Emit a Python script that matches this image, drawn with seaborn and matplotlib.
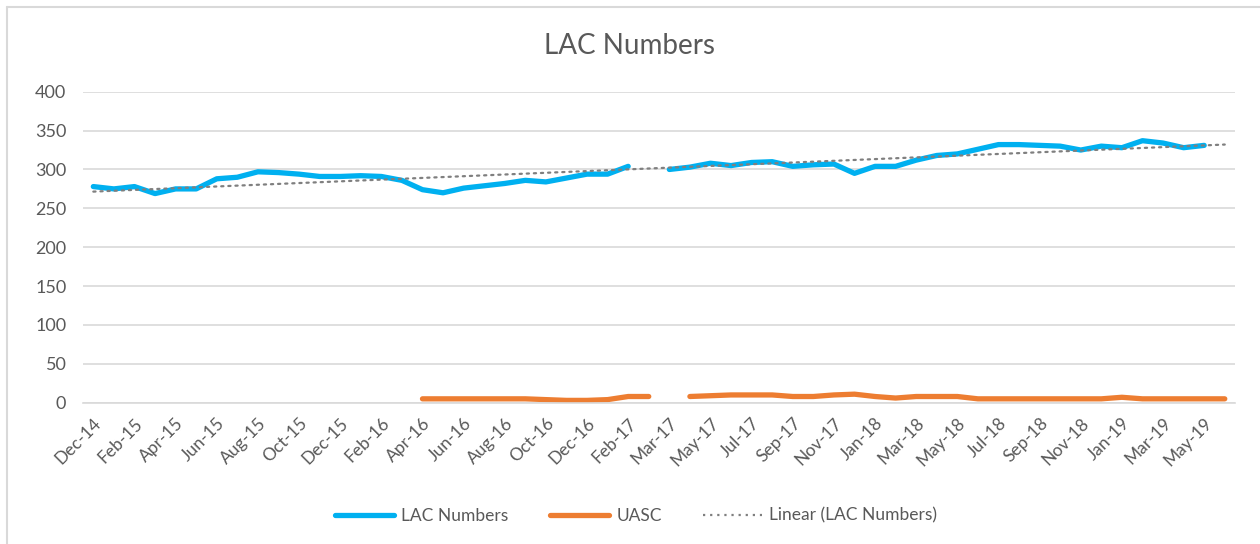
import numpy as np
import pandas as pd
import matplotlib
matplotlib.use('Agg')
import matplotlib.pyplot as plt
from matplotlib.lines import Line2D
from matplotlib.ticker import FixedLocator, MultipleLocator
import seaborn as sns

# 카테고리 (27번 자리는 빈 칸, 55번은 라벨 안 보임)
months = ['Dec-14', 'Jan-15', 'Feb-15', 'Mar-15', 'Apr-15', 'May-15', 'Jun-15', 'Jul-15',
          'Aug-15', 'Sep-15', 'Oct-15', 'Nov-15', 'Dec-15', 'Jan-16', 'Feb-16', 'Mar-16',
          'Apr-16', 'May-16', 'Jun-16', 'Jul-16', 'Aug-16', 'Sep-16', 'Oct-16', 'Nov-16',
          'Dec-16', 'Jan-17', 'Feb-17', '', 'Mar-17', 'Apr-17', 'May-17', 'Jun-17',
          'Jul-17', 'Aug-17', 'Sep-17', 'Oct-17', 'Nov-17', 'Dec-17', 'Jan-18', 'Feb-18',
          'Mar-18', 'Apr-18', 'May-18', 'Jun-18', 'Jul-18', 'Aug-18', 'Sep-18', 'Oct-18',
          'Nov-18', 'Dec-18', 'Jan-19', 'Feb-19', 'Mar-19', 'Apr-19', 'May-19', 'Jun-19']

nan = np.nan
lac = [278, 275, 278, 269, 275, 275, 288, 290, 297, 296, 294, 291, 291, 292, 291, 286,
       274, 270, 276, 279, 282, 286, 284, 289, 294, 294, 304,
       nan,
       300, 303, 308, 305, 309, 310, 304, 306,
       307, 295, 304, 304, 312, 318, 320, 326, 332, 332, 331, 330, 325, 330, 328, 337,
       334, 328, 331,
       nan]
uasc = [nan] * 16 + [5, 5, 5, 5, 5, 5, 4, 3, 3, 4, 8, 8] + [nan] + \
       [8, 9, 10, 10, 10, 8, 8, 10, 11, 8, 6, 8, 8, 8, 5, 5, 5, 5, 5, 5, 5, 7, 5, 5, 5, 5, 5]

df = pd.DataFrame({'idx': range(len(months)), 'month': months, 'LAC Numbers': lac, 'UASC': uasc})
# 빈 칸 기준으로 선 끊기 위해 segment 번호 부여
for col in ['LAC Numbers', 'UASC']:
    df[col + '_seg'] = df[col].isna().cumsum()

# 추세선 (Linear)
ok = df['LAC Numbers'].notna()
coef = np.polyfit(df.loc[ok, 'idx'], df.loc[ok, 'LAC Numbers'], 1)
df['trend'] = np.polyval(coef, df['idx'])

sns.set_style('white')
plt.rcParams['font.family'] = ['Lato', 'DejaVu Sans']

blue = '#00B0F0'
orange = '#ED7D31'
grey_txt = '#595959'
grid_c = '#D9D9D9'

fig = plt.figure(figsize=(12.6, 5.44), dpi=100)
ax = fig.add_axes([0.0659, 0.2597, 0.9143, 0.5717])

for col, c in [('LAC Numbers', blue), ('UASC', orange)]:
    d = df[df[col].notna()]
    sns.lineplot(data=d, x='idx', y=col, units=col + '_seg', estimator=None,
                 color=c, lw=3.8, ax=ax, legend=False, solid_capstyle='round')
sns.lineplot(data=df, x='idx', y='trend', color='#7F7F7F', lw=1.6, ax=ax, legend=False,
             linestyle=(0, (1, 2.2)), dash_capstyle='round')

ax.set_xlim(-0.5, len(months) - 0.5)
ax.set_ylim(0, 400)
ax.yaxis.set_major_locator(MultipleLocator(50))
ax.grid(axis='y', color=grid_c, lw=1.2)
ax.set_axisbelow(True)
for s in ['top', 'right', 'left']:
    ax.spines[s].set_visible(False)
ax.spines['bottom'].set_color(grid_c)
ax.spines['bottom'].set_linewidth(1.2)

ax.xaxis.set_major_locator(FixedLocator(list(range(0, len(months), 2))))
ax.set_xticklabels([months[i] for i in range(0, len(months), 2)], rotation=45,
                   ha='right', rotation_mode='anchor')
ax.xaxis.set_minor_locator(FixedLocator(np.arange(-0.5, len(months), 1)))
ax.tick_params(axis='x', which='major', length=0, pad=9, labelsize=12.5, labelcolor=grey_txt)
ax.tick_params(axis='x', which='minor', length=5, width=1.2, color=grid_c, direction='out')
ax.tick_params(axis='y', length=0, pad=12, labelsize=13, labelcolor=grey_txt)
ax.set_xlabel('')
ax.set_ylabel('')

fig.text(0.5, 0.915, 'LAC Numbers', ha='center', va='center', fontsize=20, color=grey_txt)

handles = [Line2D([], [], color=blue, lw=3.8, solid_capstyle='round'),
           Line2D([], [], color=orange, lw=3.8, solid_capstyle='round'),
           Line2D([], [], color='#7F7F7F', lw=1.6, linestyle=(0, (1, 2.2)))]
fig.legend(handles, ['LAC Numbers', 'UASC', 'Linear (LAC Numbers)'], loc='center',
           bbox_to_anchor=(0.505, 0.052), ncol=3, frameon=False, fontsize=12.5,
           handlelength=3.4, handletextpad=0.4, columnspacing=2.4, labelcolor=grey_txt)

# 차트 테두리
fig.add_artist(Line2D([7 / 1260, 7 / 1260], [0, 1 - 7 / 544], transform=fig.transFigure,
                      color=grid_c, lw=1.5))
fig.add_artist(Line2D([7 / 1260, 1], [1 - 7 / 544, 1 - 7 / 544], transform=fig.transFigure,
                      color=grid_c, lw=1.5))

fig.savefig('out.png', dpi=100)
